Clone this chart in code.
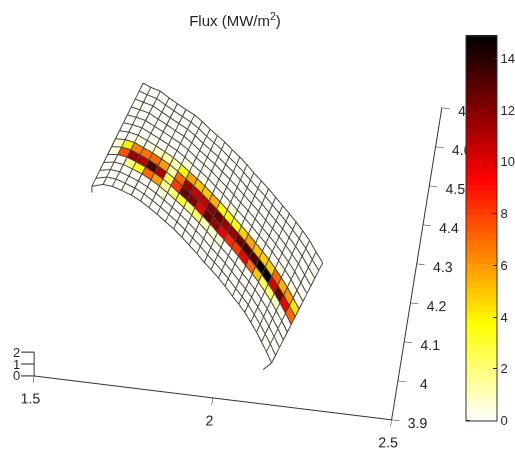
import numpy as np, plotly.graph_objects as go
# Mesh edges (data units): upper and lower long edge, one node per column
x_top=[1.675,1.698,1.726,1.753,1.778,1.804,1.83,1.854,1.879,1.902,1.925,1.949,1.973,1.996,2.018,2.042,2.066,2.089,2.112,2.134,2.156,2.178,2.201,2.224,2.247]
y_top=[4.639,4.631,4.624,4.61,4.598,4.586,4.575,4.561,4.544,4.53,4.516,4.499,4.483,4.466,4.448,4.43,4.412,4.393,4.374,4.356,4.337,4.317,4.295,4.268,4.243]
x_bot=[1.58,1.61,1.636,1.663,1.692,1.72,1.746,1.771,1.797,1.823,1.849,1.873,1.898,1.922,1.944,1.968,1.989,2.014,2.035,2.055,2.076,2.096,2.114,2.132,2.151]
y_bot=[4.364,4.372,4.37,4.363,4.354,4.342,4.328,4.314,4.298,4.282,4.264,4.246,4.227,4.207,4.191,4.172,4.154,4.131,4.113,4.094,4.071,4.048,4.025,4.002,3.975]
x_tail=[1.583,2.131]
y_tail=[4.348,3.956]
surface_z=1.0
# Flux per mesh cell (MW/m^2): rows run from the upper edge to the lower edge
zero_row=[0]*24
flux_5 =[0,0,0,0,0,0,0,.5,0,.3,0,0,0,.5,0,0,0,0,0,0,.5,0,.6,0]
flux_6 =[0,.4,.3,.4,1,1.2,1,3.8,5.8,5,5,5.5,3.9,3.8,3.5,4.8,5.8,5,4.8,4.8,7,5.5,6,4.3]
flux_7 =[.8,4,6.5,6.8,7,6,1.3,7,11.5,10.5,10.5,12,12.5,11.5,11.5,12.5,13.2,13,14.8,14.7,10,12.5,9.5,7]
flux_8 =[.6,7.5,11.5,11,13,11,2.5,8,12.5,12,9.5,12.5,11.5,9.5,8.5,8,9.5,7,5,2.5,2.2,1,.4,0]
flux_9 =[0,0,1.8,3.5,7,5.8,1.5,2,3,2,2.2,1,.7,.5,0,0,.3,0,0,0,0,0,0,0]
flux_10=[0,0,0,0,0,0,.6,0,0,0,0,0,0,0,0,0,0,0,0,0,0,0,0,0]
flux=[zero_row]*5+[flux_5,flux_6,flux_7,flux_8,flux_9,flux_10]+[zero_row]*2
x_ticks=[1.5,2,2.5]
y_ticks=[3.9,4,4.1,4.2,4.3,4.4,4.5,4.6,4.7]
z_ticks=[0,1,2]
bar_ticks=[0,2,4,6,8,10,12,14]
flux_max=14.88
title="Flux (MW/m<sup>2</sup>)"

nr=len(flux); nc=len(flux[0])
t=np.arange(nr+1)/nr
X=np.array([[a+(b-a)*u for a,b in zip(x_top,x_bot)] for u in t])
Y=np.array([[a+(b-a)*u for a,b in zip(y_top,y_bot)] for u in t])
vx=[];vy=[];vz=[];I=[];J=[];K=[];cell=[]
for i in range(nr):
    for j in range(nc):
        n=len(vx)
        for a,b in ((i,j),(i,j+1),(i+1,j+1),(i+1,j)):
            vx.append(X[a,b]);vy.append(Y[a,b]);vz.append(surface_z)
        I+=[n,n];J+=[n+1,n+2];K+=[n+2,n+3];cell+=[flux[i][j]]*2
# reversed 64-step "hot" colormap
cs=[]
N=64
for k in range(N):
    c=1-(k+.5)/N
    r=min(1,c/(24/64)); g=min(1,max(0,(c-24/64)/(24/64))); b=max(0,(c-48/64)/(16/64))
    col=f"rgb({round(r*255)},{round(g*255)},{round(b*255)})"
    cs+=[[k/N,col],[(k+1)/N,col]]
TXT="#262626"
FONT="Liberation Sans"
fig=go.Figure()
fig.add_trace(go.Mesh3d(x=vx,y=vy,z=vz,i=I,j=J,k=K,intensity=cell,intensitymode="cell",colorscale=cs,cmin=0,cmax=flux_max,flatshading=True,
  lighting=dict(ambient=1,diffuse=0,specular=0,fresnel=0,roughness=1),hoverinfo="skip",
  colorbar=dict(x=466/515,xanchor="left",xref="paper",y=(452-420.5)/452,yanchor="bottom",len=385,lenmode="pixels",thickness=31,thicknessmode="pixels",
   tickvals=bar_ticks,ticks="inside",ticklen=4,tickcolor="#222",outlinecolor="#333",outlinewidth=1,xpad=0,ypad=0,tickfont=dict(family=FONT,size=13,color=TXT))))
lx=[];ly=[];lz=[]
lift=surface_z+.03
for i in range(nr+1):
    lx+=list(X[i])+[None];ly+=list(Y[i])+[None];lz+=[lift]*(nc+1)+[None]
for j in range(nc+1):
    lx+=list(X[:,j])+[None];ly+=list(Y[:,j])+[None];lz+=[lift]*(nr+1)+[None]
lx+=[X[nr,0],x_tail[0],None,X[nr,nc],x_tail[1],None]
ly+=[Y[nr,0],y_tail[0],None,Y[nr,nc],y_tail[1],None]
lz+=[lift,lift,None,lift,lift,None]
fig.add_trace(go.Scatter3d(x=lx,y=ly,z=lz,mode="lines",line=dict(color="#444",width=2),hoverinfo="skip",showlegend=False))
ax=dict(showbackground=False,showgrid=False,zeroline=False,showline=True,linecolor="#333",linewidth=2,ticks="outside",ticklen=8,tickwidth=1,tickangle=0,tickcolor="#222",title="",showspikes=False,tickfont=dict(family=FONT,size=13,color=TXT))
th=np.radians(8);el=np.radians(60.8)
S=1.626
bar_y=lambda v:(452-420.5+v*385/flux_max)/452
shapes=[dict(type="line",xref="paper",yref="paper",x0=466/515,x1=470/515,y0=bar_y(v),y1=bar_y(v),line=dict(color="#222",width=1)) for v in bar_ticks]
zannot=[dict(x=x_ticks[0],y=y_ticks[0],z=v,text=str(v),showarrow=True,ax=-18,ay=0,arrowhead=0,arrowwidth=1,arrowcolor="#222",font=dict(family=FONT,size=13,color=TXT)) for v in z_ticks]
fig.update_layout(width=515,height=452,margin=dict(l=0,r=0,t=0,b=0,autoexpand=False),paper_bgcolor="white",shapes=shapes,
 title=dict(text=title,x=235/515,xanchor="center",y=1-21/452,yanchor="middle",font=dict(family=FONT,size=15,color=TXT)),
 scene=dict(domain=dict(x=[0,476/515],y=[0,.983]),aspectmode="manual",aspectratio=dict(x=S,y=S,z=.135*S),annotations=zannot,
  camera=dict(projection=dict(type="orthographic"),up=dict(x=0,y=0,z=1),center=dict(x=0,y=0,z=0),eye=dict(x=np.sin(th)*np.cos(el),y=-np.cos(th)*np.cos(el),z=np.sin(el))),
  xaxis=dict(ax,range=[1.5,2.5],tickvals=x_ticks),yaxis=dict(ax,range=[3.9,4.7],tickvals=y_ticks),zaxis=dict(ax,range=[0,2],tickvals=z_ticks,ticks="",showticklabels=False)))
fig.write_html("out.html",post_script="document.body.style.margin='0';",config=dict(displayModeBar=False))
